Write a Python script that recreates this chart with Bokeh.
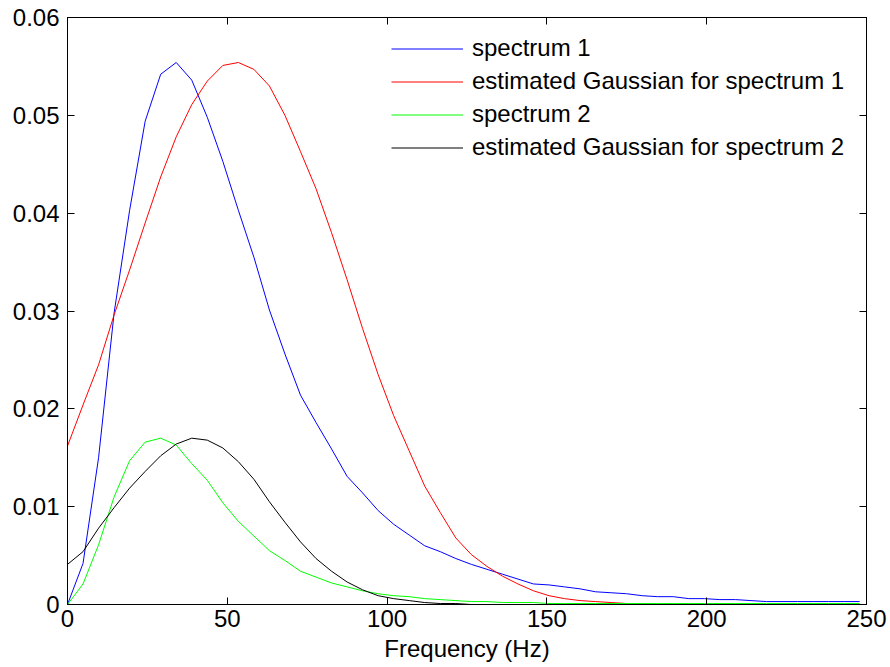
from bokeh.plotting import figure
from bokeh.models import LinearAxis, Range1d, Legend, LegendItem, FixedTicker
from bokeh.embed import file_html
from bokeh.resources import INLINE

# Frequency bins (Hz)
freq = [0.00, 4.86, 9.72, 14.58, 19.44, 24.30, 29.16, 34.02, 38.88, 43.74,
        48.60, 53.46, 58.32, 63.18, 68.04, 72.90, 77.76, 82.62, 87.48, 92.34,
        97.20, 102.06, 106.92, 111.78, 116.64, 121.50, 126.36, 131.22, 136.08, 140.94,
        145.80, 150.66, 155.52, 160.38, 165.24, 170.10, 174.96, 179.82, 184.68, 189.54,
        194.40, 199.26, 204.12, 208.98, 213.84, 218.70, 223.56, 228.42, 233.28, 238.14,
        243.00, 247.86]

spectrum1 = [0.0, 0.0042, 0.0150, 0.0298, 0.0403, 0.0494, 0.0542, 0.0554, 0.0536, 0.0498,
             0.0453, 0.0403, 0.0355, 0.0301, 0.0256, 0.0214, 0.0186, 0.0159, 0.0131, 0.0114,
             0.0096, 0.0082, 0.0071, 0.0060, 0.0054, 0.0047, 0.0041, 0.0036, 0.0031, 0.0026,
             0.0021, 0.0020, 0.0018, 0.0016, 0.0013, 0.0012, 0.0011, 0.0009, 0.0008, 0.0008,
             0.0006, 0.0006, 0.0005, 0.0005, 0.0004, 0.0003, 0.0003, 0.0003, 0.0003, 0.0003,
             0.0003, 0.0003]

gauss1 = [0.0162, 0.0204, 0.0245, 0.0296, 0.0342, 0.0390, 0.0437, 0.0478, 0.0511, 0.0535,
          0.0551, 0.0554, 0.0547, 0.0530, 0.0500, 0.0463, 0.0425, 0.0380, 0.0332, 0.0282,
          0.0235, 0.0193, 0.0157, 0.0121, 0.0094, 0.0068, 0.0051, 0.0039, 0.0029, 0.0021,
          0.0014, 0.0009, 0.0006, 0.0004, 0.0003, 0.0002, 0.0001, 0.0001, 0.0, 0.0,
          0.0, 0.0, 0.0, 0.0, 0.0, 0.0, 0.0, 0.0, 0.0, 0.0,
          0.0, 0.0]

spectrum2 = [0.0, 0.0021, 0.0061, 0.0110, 0.0147, 0.0166, 0.0170, 0.0163, 0.0144, 0.0127,
             0.0104, 0.0085, 0.0070, 0.0055, 0.0045, 0.0034, 0.0028, 0.0022, 0.0018, 0.0014,
             0.0011, 0.0009, 0.0008, 0.0006, 0.0005, 0.0004, 0.0003, 0.0003, 0.0002, 0.0002,
             0.0002, 0.0001, 0.0001, 0.0001, 0.0001, 0.0001, 0.0001, 0.0001, 0.0001, 0.0001,
             0.0001, 0.0001, 0.0001, 0.0001, 0.0001, 0.0001, 0.0001, 0.0001, 0.0001, 0.0001,
             0.0001, 0.0001]

gauss2 = [0.0041, 0.0054, 0.0078, 0.0099, 0.0119, 0.0136, 0.0152, 0.0164, 0.0170, 0.0168,
          0.0160, 0.0146, 0.0128, 0.0105, 0.0084, 0.0064, 0.0047, 0.0034, 0.0023, 0.0015,
          0.0009, 0.0006, 0.0004, 0.0002, 0.0001, 0.0001, 0.0, 0.0, 0.0, 0.0,
          0.0, 0.0, 0.0, 0.0, 0.0, 0.0, 0.0, 0.0, 0.0, 0.0,
          0.0, 0.0, 0.0, 0.0, 0.0, 0.0, 0.0, 0.0, 0.0, 0.0,
          0.0, 0.0]

series_labels = ["spectrum 1", "estimated Gaussian for spectrum 1",
                 "spectrum 2", "estimated Gaussian for spectrum 2"]
series_colors = ["#0000FF", "#FF0000", "#00FF00", "#000000"]

x_ticks = [0, 50, 100, 150, 200, 250]
y_ticks = [0, 0.01, 0.02, 0.03, 0.04, 0.05, 0.06]
y_tick_labels = ["0", "0.01", "0.02", "0.03", "0.04", "0.05", "0.06"]

FONT = "Liberation Sans"
FSIZE = "24px"

p = figure(width=890, height=667, output_backend="svg", toolbar_location=None,
           x_range=Range1d(0, 250), y_range=Range1d(0, 0.06),
           min_border_left=67, min_border_right=24, min_border_top=17, min_border_bottom=63)
p.xgrid.visible = False
p.ygrid.visible = False
p.outline_line_color = "black"
p.outline_line_width = 1
p.background_fill_color = "white"
p.border_fill_color = "white"

renderers = []
for ys, c in zip([spectrum1, gauss1, spectrum2, gauss2], series_colors):
    r = p.line(freq, ys, line_color=c, line_width=1)
    renderers.append(r)

bottom = p.below[0]
left = p.left[0]

# Unlabelled mirror axes so the box carries inward ticks on all four sides
top = LinearAxis(major_label_overrides={t: "" for t in x_ticks})
right = LinearAxis(major_label_overrides={t: "" for t in y_ticks})
p.add_layout(top, "above")
p.add_layout(right, "right")

for ax in (bottom, top):
    ax.ticker = FixedTicker(ticks=x_ticks)
for ax in (left, right):
    ax.ticker = FixedTicker(ticks=y_ticks)
left.major_label_overrides = {t: s for t, s in zip(y_ticks, y_tick_labels)}

for ax in (bottom, top, left, right):
    ax.major_tick_in = 7
    ax.major_tick_out = 0
    ax.minor_tick_in = 0
    ax.minor_tick_out = 0
    ax.axis_line_color = "black"
    ax.major_tick_line_color = "black"
    ax.major_label_text_font = FONT
    ax.major_label_text_font_size = FSIZE
    ax.major_label_text_color = "black"

top.major_label_standoff = 0
right.major_label_standoff = 0

left.major_label_standoff = 8
bottom.major_label_standoff = 5
bottom.axis_label = "Frequency (Hz)"
bottom.axis_label_text_font = FONT
bottom.axis_label_text_font_size = FSIZE
bottom.axis_label_text_font_style = "normal"
bottom.axis_label_text_color = "black"
bottom.axis_label_standoff = 5

# One borderless single-entry legend per series, stacked down the top right
row_offsets = [542, 509, 476, 443]
for lab, r, yoff in zip(series_labels, renderers, row_offsets):
    lg = Legend(
        items=[LegendItem(label=lab, renderers=[r])],
        location=(324, yoff),
        border_line_color=None,
        background_fill_alpha=0,
        padding=0, margin=0, spacing=0,
        glyph_width=72, glyph_height=25, label_height=25, label_standoff=9,
        label_text_font=FONT, label_text_font_size=FSIZE, label_text_color="black",
    )
    p.add_layout(lg)

open("out.html", "w").write(file_html(p, INLINE))
